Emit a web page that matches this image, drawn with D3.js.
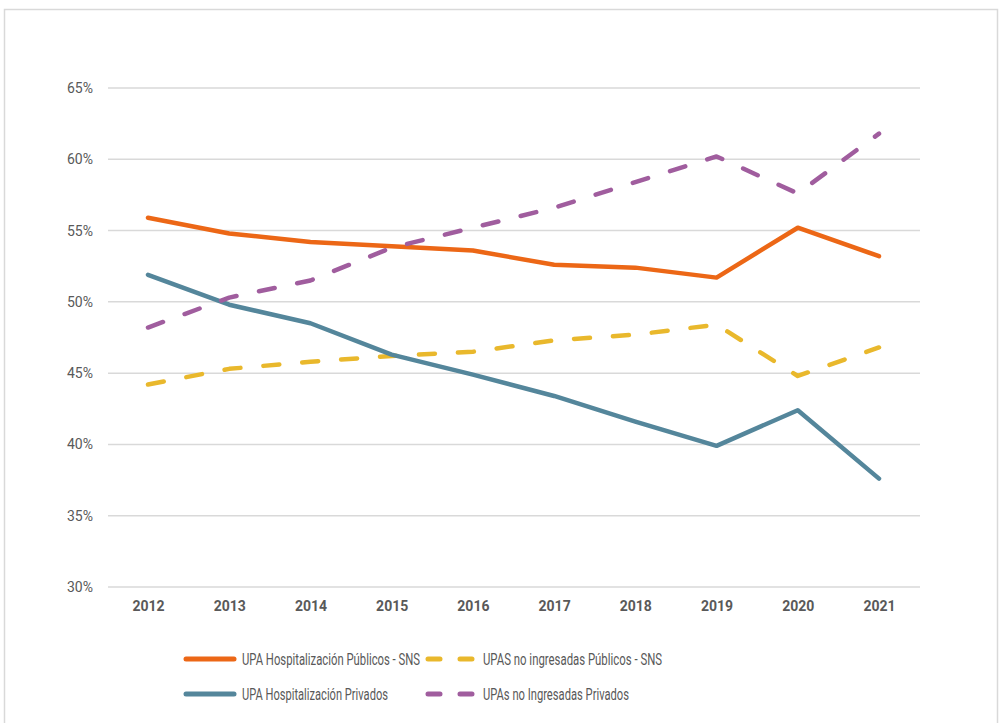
<!DOCTYPE html>
<html>
<head>
<meta charset="utf-8">
<script src="https://cdn.jsdelivr.net/npm/d3@7"></script>
<style>
  body { margin: 0; background: #fff; }
  svg { display: block; }
</style>
</head>
<body>
<svg></svg>
<script>
// Dimensions
var width = 1001;
var height = 723;
var font = 'Roboto, "Liberation Sans", sans-serif';

// Data
var years = ['2012', '2013', '2014', '2015', '2016', '2017', '2018', '2019', '2020', '2021'];
var hospPublicos = [55.9, 54.8, 54.2, 53.9, 53.6, 52.6, 52.4, 51.7, 55.2, 53.2];
var hospPrivados = [51.9, 49.8, 48.5, 46.3, 44.9, 43.4, 41.6, 39.9, 42.4, 37.6];
var noIngPublicos = [44.2, 45.3, 45.8, 46.2, 46.5, 47.3, 47.7, 48.4, 44.8, 46.8];
var noIngPrivados = [48.2, 50.3, 51.5, 53.8, 55.2, 56.6, 58.4, 60.2, 57.6, 61.8];
var yTicks = [30, 35, 40, 45, 50, 55, 60, 65];

var series = [
  { name: 'UPA Hospitalización Públicos - SNS', values: hospPublicos, color: '#EC6716', dashed: false, textWidth: 178 },
  { name: 'UPAS no ingresadas Públicos - SNS', values: noIngPublicos, color: '#E9B82C', dashed: true, textWidth: 179 },
  { name: 'UPA Hospitalización Privados', values: hospPrivados, color: '#54869B', dashed: false, textWidth: 146 },
  { name: 'UPAs no Ingresadas Privados', values: noIngPrivados, color: '#A05D9E', dashed: true, textWidth: 146 }
];

var svg = d3.select('svg')
  .attr('width', width)
  .attr('height', height);

// Outer frame
svg.append('rect')
  .attr('x', 4.5)
  .attr('y', 9.5)
  .attr('width', 993)
  .attr('height', 730)
  .attr('fill', '#fff')
  .attr('stroke', '#d9d9d9')
  .attr('stroke-width', 1.5);

var x = d3.scalePoint()
  .domain(years)
  .range([148, 879]);

var y = d3.scaleLinear()
  .domain([30, 65])
  .range([587, 88]);

// Gridlines
svg.append('g')
  .selectAll('line')
  .data(yTicks)
  .enter()
  .append('line')
    .attr('x1', 108)
    .attr('x2', 920)
    .attr('y1', function (d) { return y(d); })
    .attr('y2', function (d) { return y(d); })
    .attr('stroke', '#d9d9d9')
    .attr('stroke-width', 1.5);

// Y axis labels
var yAxis = d3.axisLeft(y)
  .tickValues(yTicks)
  .tickFormat(function (d) { return d + '%'; })
  .tickSize(0)
  .tickPadding(0);

svg.append('g')
  .attr('transform', 'translate(93,0)')
  .call(yAxis)
  .call(function (g) { g.select('.domain').remove(); })
  .selectAll('text')
    .attr('font-family', font)
    .attr('font-size', 14)
    .attr('fill', '#595959');

// X axis labels
var xAxis = d3.axisBottom(x)
  .tickSize(0)
  .tickPadding(0);

svg.append('g')
  .attr('transform', 'translate(0,601)')
  .call(xAxis)
  .call(function (g) { g.select('.domain').remove(); })
  .selectAll('text')
    .attr('font-family', font)
    .attr('font-size', 14)
    .attr('font-weight', 'bold')
    .attr('fill', '#595959');

// Lines
var line = d3.line()
  .x(function (d, i) { return x(years[i]); })
  .y(function (d) { return y(d); });

svg.append('g')
  .selectAll('path')
  .data(series)
  .enter()
  .append('path')
    .attr('d', function (d) { return line(d.values); })
    .attr('fill', 'none')
    .attr('stroke', function (d) { return d.color; })
    .attr('stroke-width', 4.5)
    .attr('stroke-linecap', 'round')
    .attr('stroke-linejoin', 'round')
    .attr('stroke-dasharray', function (d) { return d.dashed ? '16,23' : null; });

// Legend
var legendPos = [
  { x: 186, y: 659 },
  { x: 428, y: 659 },
  { x: 186, y: 694 },
  { x: 428, y: 694 }
];

var legend = svg.append('g')
  .selectAll('g')
  .data(series)
  .enter()
  .append('g')
    .attr('transform', function (d, i) {
      return 'translate(' + legendPos[i].x + ',' + legendPos[i].y + ')';
    });

legend.append('line')
  .attr('x1', 0)
  .attr('x2', function (d) { return d.dashed ? 46 : 48; })
  .attr('y1', 0)
  .attr('y2', 0)
  .attr('stroke', function (d) { return d.color; })
  .attr('stroke-width', 5)
  .attr('stroke-linecap', 'round')
  .attr('stroke-dasharray', function (d) { return d.dashed ? '12,20' : null; });

legend.append('text')
  .attr('x', function (d) { return d.dashed ? 55 : 56; })
  .attr('y', 0)
  .attr('dy', '0.35em')
  .attr('font-family', font)
  .attr('font-size', 16)
  .attr('fill', '#595959')
  .attr('textLength', function (d) { return d.textWidth; })
  .attr('lengthAdjust', 'spacingAndGlyphs')
  .text(function (d) { return d.name; });
</script>
</body>
</html>
